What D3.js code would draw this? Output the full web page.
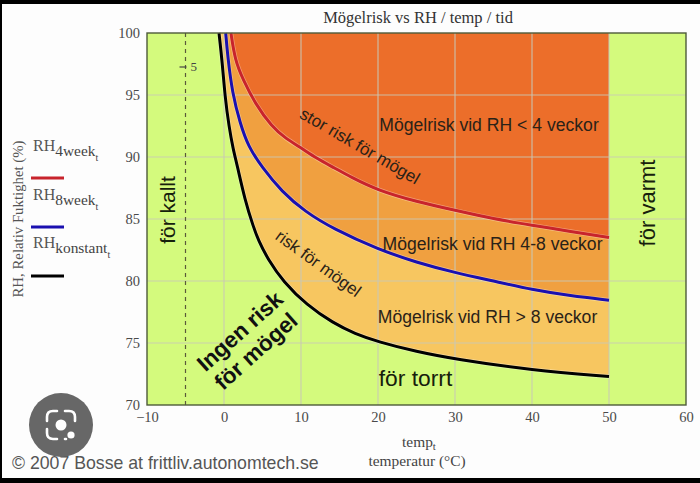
<!DOCTYPE html>
<html lang="sv">
<head>
<meta charset="utf-8">
<title>Mögelrisk vs RH / temp / tid</title>
<script src="https://cdnjs.cloudflare.com/ajax/libs/d3/7.8.5/d3.min.js"></script>
<style>
html,body{margin:0;padding:0;background:#000;}
svg{display:block;}
.serif{font-family:"Liberation Serif",serif;}
.sans{font-family:"Liberation Sans",Arial,sans-serif;}
</style>
</head>
<body>
<div id="chart"></div>
<script>
// Temperature (°C) and relative humidity (%) along each limit curve
const temp4week = [0.9, 1.43, 2.5, 4.03, 6.2, 8, 10.1, 12, 14.4, 16.4, 20, 25, 30, 35, 40, 45, 50];
const rh4week = [100, 97.8, 96.2, 94.33, 92.44, 91.5, 90.7, 89.9, 89.1, 88.4, 87.3, 86.4, 85.7, 85, 84.5, 84, 83.5];
const temp8week = [0.22, 0.48, 1.08, 2.08, 3.16, 4.9, 7.5, 10.5, 14.2, 20, 25, 30, 35, 40, 45, 50];
const rh8week = [100, 98.1, 95.16, 92.74, 90.83, 89.2, 87.2, 85.6, 84.2, 82.55, 81.5, 80.67, 80, 79.3, 78.8, 78.45];
const tempKonstant = [-0.65, -0.22, 0.13, 0.65, 1.21, 1.65, 2.73, 3.8, 4.45, 5.75, 7.7, 10.74, 14.2, 17, 20, 25, 30, 40, 50];
const rhKonstant = [100, 97.58, 94.86, 92.44, 90.56, 89.5, 86.5, 84.4, 83.3, 81.7, 79.95, 78.06, 76.6, 75.75, 75.1, 74.3, 73.7, 72.8, 72.3];

const xTicks = [-10, 0, 10, 20, 30, 40, 50, 60];
const yTicks = [70, 75, 80, 85, 90, 95, 100];
const gridX = [0, 10, 20, 30, 40, 50];
const gridY = [75, 80, 85, 90, 95];
const tooCold = -5;

const colors = {
  green: "#d4fa7d",
  high: "#ec6e2a",
  mid: "#f0a040",
  low: "#f7c660",
  grid: "#c9c9b8",
  red: "#c8242c",
  blue: "#1a10b0",
  black: "#000000",
  ink: "#4a4a4a"
};

const W = 700, H = 483;
const plot = {left: 147, right: 686, top: 33, bottom: 405};

const x = d3.scaleLinear().domain([-10, 60]).range([plot.left, plot.right]);
const y = d3.scaleLinear().domain([70, 100]).range([plot.bottom, plot.top]);

const svg = d3.select("#chart").append("svg").attr("width", W).attr("height", H);

// Photographed page: black edge bands around a white sheet
svg.append("rect").attr("width", W).attr("height", H).attr("fill", "#000");
svg.append("rect").attr("x", 2).attr("y", 4).attr("width", W - 2).attr("height", 474).attr("fill", "#fdfdfd");

svg.append("rect")
  .attr("x", plot.left).attr("y", plot.top)
  .attr("width", plot.right - plot.left).attr("height", plot.bottom - plot.top)
  .attr("fill", colors.green);

const zip = (ts, rs) => ts.map((t, i) => ({t, rh: rs[i]}));
const konstant = zip(tempKonstant, rhKonstant);
const week8 = zip(temp8week, rh8week);
const week4 = zip(temp4week, rh4week);

const area = d3.area()
  .x(d => x(d.t)).y0(y(100)).y1(d => y(d.rh))
  .curve(d3.curveBasis);
const line = d3.line()
  .x(d => x(d.t)).y(d => y(d.rh))
  .curve(d3.curveBasis);

// Risk bands stack from the lowest limit upward
[[konstant, colors.low], [week8, colors.mid], [week4, colors.high]].forEach(([data, fill]) => {
  svg.append("path").attr("d", area(data)).attr("fill", fill);
});

// Grid
svg.append("g").selectAll("line").data(gridX).join("line")
  .attr("x1", d => x(d)).attr("x2", d => x(d))
  .attr("y1", plot.top).attr("y2", plot.bottom)
  .attr("stroke", colors.grid).attr("stroke-width", 1.2).attr("opacity", 0.85);
svg.append("g").selectAll("line").data(gridY).join("line")
  .attr("x1", plot.left).attr("x2", plot.right)
  .attr("y1", d => y(d)).attr("y2", d => y(d))
  .attr("stroke", colors.grid).attr("stroke-width", 1.2).attr("opacity", 0.85);

// Lower temperature limit
svg.append("line")
  .attr("x1", x(tooCold)).attr("x2", x(tooCold))
  .attr("y1", plot.top).attr("y2", plot.bottom)
  .attr("stroke", "#5a5a3a").attr("stroke-width", 1.2).attr("stroke-dasharray", "4 4");
svg.append("line")
  .attr("x1", x(tooCold) - 6).attr("x2", x(tooCold) + 1)
  .attr("y1", 67).attr("y2", 67)
  .attr("stroke", "#444").attr("stroke-width", 1.2);
svg.append("text").attr("class", "serif")
  .attr("x", x(tooCold) + 5).attr("y", 71)
  .attr("font-size", 13).attr("fill", "#444").text(Math.abs(tooCold));

// Limit curves, each with a faint pale edge
[[konstant, colors.black], [week8, colors.blue], [week4, colors.red]].forEach(([data, stroke]) => {
  svg.append("path").attr("d", line(data)).attr("fill", "none")
    .attr("stroke", "#fff").attr("stroke-opacity", 0.35).attr("stroke-width", 4.4);
  svg.append("path").attr("d", line(data)).attr("fill", "none")
    .attr("stroke", stroke).attr("stroke-width", 3);
});

// Frame
svg.append("rect")
  .attr("x", plot.left).attr("y", plot.top)
  .attr("width", plot.right - plot.left).attr("height", plot.bottom - plot.top)
  .attr("fill", "none").attr("stroke", "#4e5a3a").attr("stroke-width", 1.4);

// Axes
const xAxis = svg.append("g").attr("class", "serif")
  .attr("transform", `translate(0,${plot.bottom})`)
  .call(d3.axisBottom(x).tickValues(xTicks).tickSize(0).tickPadding(7).tickFormat(d => d < 0 ? "\u2212" + Math.abs(d) : d));
const yAxis = svg.append("g").attr("class", "serif")
  .attr("transform", `translate(${plot.left},0)`)
  .call(d3.axisLeft(y).tickValues(yTicks).tickSize(0).tickPadding(7));
[xAxis, yAxis].forEach(a => {
  a.select(".domain").remove();
  a.selectAll("text").attr("font-size", 14.5).attr("fill", colors.ink)
    .style("font-family", '"Liberation Serif",serif');
});

const label = (txt, px, py, size, opts = {}) => {
  return svg.append("text")
    .attr("class", opts.serif ? "serif" : "sans")
    .attr("font-size", size)
    .attr("fill", opts.fill || "#2a2218")
    .attr("font-weight", opts.bold ? "bold" : null)
    .attr("text-anchor", opts.anchor || "middle")
    .attr("transform", `translate(${px},${py}) rotate(${opts.rotate || 0})`)
    .text(txt);
};

label("Mögelrisk vs RH / temp / tid", 418, 23, 16.5, {serif: true, fill: "#333"});

label("Mögelrisk vid RH < 4 veckor", 489, 131, 17.6);
label("Mögelrisk vid RH 4-8 veckor", 492.5, 250, 17.6);
label("Mögelrisk vid RH > 8 veckor", 487.5, 323, 17.6);
label("stor risk för mögel", 357, 151, 17, {rotate: 30});
label("risk för mögel", 315, 268, 16.8, {rotate: 36});
label("för torrt", 415.5, 386, 22.8, {fill: "#16200c"});
label("för kallt", 175, 210, 21, {rotate: -90, fill: "#16200c"});
label("för varmt", 655, 203, 22, {rotate: -90, fill: "#16200c"});
label("Ingen risk", 245, 337, 22.5, {rotate: -42, bold: true, fill: "#111"});
label("för mögel", 261, 357, 22.5, {rotate: -42, bold: true, fill: "#111"});

// Axis titles
label("RH, Relativ Fuktighet (%)", 23, 219, 14.8, {serif: true, rotate: -90, fill: "#555"});

const xTitle = svg.append("text").attr("class", "serif")
  .attr("x", 419).attr("y", 447).attr("text-anchor", "middle")
  .attr("font-size", 15.4).attr("fill", "#444");
xTitle.append("tspan").text("temp");
xTitle.append("tspan").attr("dy", 3).attr("font-size", 11).text("t");
label("temperatur (°C)", 417, 466, 15.4, {serif: true, fill: "#444"});

// Legend entries, drawn with their subscript tails
const legendRows = [
  {name: "4week", color: colors.red, textY: 151, lineY: 178},
  {name: "8week", color: colors.blue, textY: 200, lineY: 227},
  {name: "konstant", color: colors.black, textY: 248, lineY: 276}
];
legendRows.forEach(r => {
  const t = svg.append("text").attr("class", "serif")
    .attr("x", 33).attr("y", r.textY)
    .attr("font-size", 16).attr("fill", "#555");
  t.append("tspan").text("RH");
  t.append("tspan").attr("dy", 5).attr("font-size", 15.4).attr("fill", "#444").text(r.name);
  t.append("tspan").attr("dy", 5).attr("font-size", 10).attr("fill", "#444").text("t");
  svg.append("line")
    .attr("x1", 31).attr("x2", 64)
    .attr("y1", r.lineY).attr("y2", r.lineY)
    .attr("stroke", r.color).attr("stroke-width", 3);
});

// Copyright line
svg.append("text").attr("class", "sans")
  .attr("x", 12).attr("y", 469)
  .attr("font-size", 17.7).attr("fill", "#555")
  .text("© 2007 Bosse at frittliv.autonomtech.se");

// Image-search badge
const badge = svg.append("g").attr("transform", "translate(61,425)");
badge.append("circle").attr("r", 32).attr("fill", "#676767");
badge.append("path")
  .attr("d", "M-14,-4 V-8 Q-14,-14 -8,-14 H-4 M4,-14 H8 Q14,-14 14,-8 V-4 M-14,4 V8 Q-14,14 -8,14 H-4 M4,14 H5")
  .attr("fill", "none").attr("stroke", "#fff").attr("stroke-width", 2.6).attr("stroke-linecap", "round");
badge.append("circle").attr("r", 5.5).attr("fill", "#fff");
badge.append("circle").attr("cx", 10).attr("cy", 10).attr("r", 3.6).attr("fill", "#fff");
</script>
</body>
</html>
